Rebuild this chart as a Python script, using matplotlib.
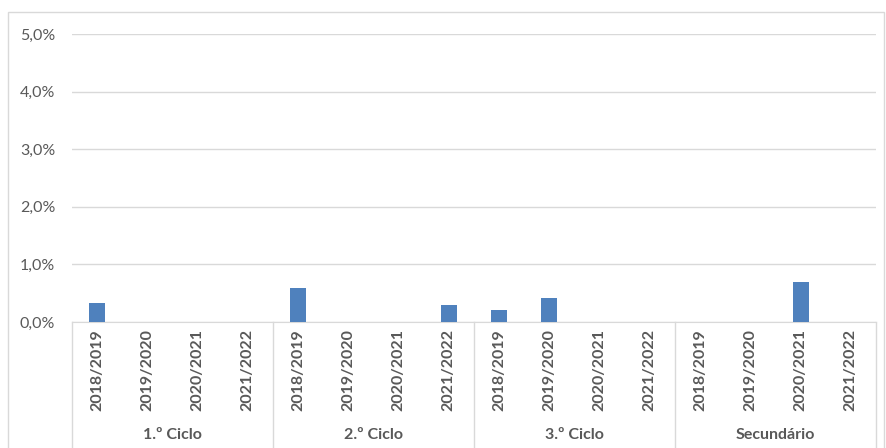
import matplotlib.pyplot as plt
from matplotlib.patches import Rectangle
from matplotlib.ticker import FuncFormatter

plt.rcParams['font.family'] = ['Lato', 'DejaVu Sans']

grupos = ['1.º Ciclo', '2.º Ciclo', '3.º Ciclo', 'Secundário']
anos = ['2018/2019', '2019/2020', '2020/2021', '2021/2022']
# valores em %
valores = [0.33, 0.0, 0.0, 0.0,
           0.59, 0.0, 0.0, 0.29,
           0.21, 0.41, 0.0, 0.0,
           0.0, 0.0, 0.69, 0.0]

W, H = 887, 448
fig = plt.figure(figsize=(W / 100, H / 100), dpi=100)
fig.patches.append(Rectangle((8 / W, -0.1), (884 - 8) / W, 1.1 - 12 / H,
                             transform=fig.transFigure, fill=False,
                             edgecolor='#d9d9d9', linewidth=1))

ax = fig.add_axes([72 / W, (H - 322) / H, (876 - 72) / W, (322 - 34) / H])
x = list(range(len(valores)))
ax.bar(x, valores, width=0.32, color='#4f81bd', zorder=3)

ax.set_xlim(-0.5, len(valores) - 0.5)
ax.set_ylim(0, 5)
ax.set_yticks([0, 1, 2, 3, 4, 5])
ax.yaxis.set_major_formatter(FuncFormatter(lambda v, p: f'{v:.1f}%'.replace('.', ',')))
ax.tick_params(axis='y', length=0, pad=12, labelsize=11.5, labelcolor='#595959')
ax.set_xticks([])
ax.grid(axis='y', color='#d9d9d9', linewidth=1, zorder=0)
for s in ['top', 'right', 'left']:
    ax.spines[s].set_visible(False)
ax.spines['bottom'].set_color('#d9d9d9')

tr = ax.get_xaxis_transform()
for i in x:
    ax.text(i, -0.167, anos[i % 4], transform=tr, rotation=90, ha='center', va='center',
            fontsize=11.5, fontweight='bold', color='#595959')
for g, nome in enumerate(grupos):
    ax.text(g * 4 + 1.5, -0.392, nome, transform=tr, ha='center', va='center',
            fontsize=11.5, fontweight='bold', color='#595959')
for sep in [-0.5, 3.5, 7.5, 11.5, 15.5]:
    ax.plot([sep, sep], [0, -0.45], transform=tr, color='#d9d9d9', linewidth=1, clip_on=False)

fig.savefig('out.png', dpi=100)
